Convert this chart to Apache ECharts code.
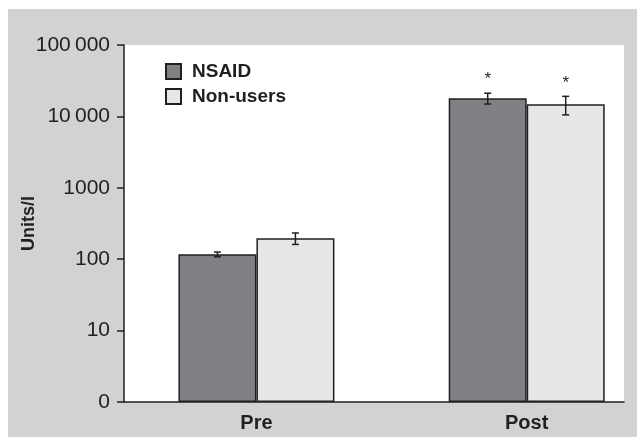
<!DOCTYPE html>
<html>
<head>
<meta charset="utf-8">
<script src="https://cdn.jsdelivr.net/npm/echarts@6/dist/echarts.min.js"></script>
<style>
  html, body { margin: 0; padding: 0; background: #fff; }
  #panel { position: absolute; left: 8px; top: 9px; width: 629px; height: 428px; background: #d1d2d4; }
  #chart { position: absolute; left: 0; top: 0; width: 644px; height: 442px; }
</style>
</head>
<body>
<div id="panel"></div>
<div id="chart"></div>
<script>
// values (Units/l), mean and error bar
const categories = ['Pre', 'Post']
const nsaid = [117, 18000]
const nsaidErr = [9, 3100]
const nonUsers = [197, 14800]
const nonUsersErr = [36, 4300]
const nsaidSig = [false, true]
const nonUsersSig = [false, true]
const yTickLabels = ['0', '10', '100', '1000', '10\u2009000', '100\u2009000']

const FONT = 'Liberation Sans'
const INK = '#231f20'
const BAR_W = 78

let myChart = echarts.init(document.getElementById('chart'))

// error bars (+ asterisk when significant), drawn on the same axes as the bars
function errorSeries(name, means, errs, sig, offset) {
  return {
    type: 'custom',
    name: name + '-err',
    z: 5,
    silent: true,
    data: means.map((m, i) => [i, m - errs[i], m + errs[i], sig[i] ? 1 : 0]),
    encode: { x: 0, y: [1, 2] },
    renderItem: function (params, api) {
      const lo = api.coord([api.value(0), api.value(1)])
      const hi = api.coord([api.value(0), api.value(2)])
      const x = lo[0] + offset
      const cap = 3.5
      const st = { stroke: INK, lineWidth: 1.5 }
      const children = [
        { type: 'line', shape: { x1: x, y1: lo[1], x2: x, y2: hi[1] }, style: st },
        { type: 'line', shape: { x1: x - cap, y1: lo[1], x2: x + cap, y2: lo[1] }, style: st },
        { type: 'line', shape: { x1: x - cap, y1: hi[1], x2: x + cap, y2: hi[1] }, style: st }
      ]
      if (api.value(3)) {
        children.push({
          type: 'text',
          style: {
            text: '*', x: x, y: hi[1] - 5, align: 'center', verticalAlign: 'bottom',
            font: '17px "' + FONT + '"', fill: INK
          }
        })
      }
      return { type: 'group', children: children }
    }
  }
}

let option = {
  animation: false,
  backgroundColor: 'transparent',
  textStyle: { fontFamily: FONT },
  grid: {
    left: 124, top: 45, right: 20, bottom: 40,
    show: true, backgroundColor: '#fff', borderWidth: 0
  },
  legend: {
    orient: 'vertical',
    left: 160, top: 57,
    icon: 'rect',
    itemWidth: 15, itemHeight: 15, itemGap: 6,
    data: ['NSAID', 'Non-users'],
    textStyle: { fontFamily: FONT, fontSize: 19, fontWeight: 'bold', color: INK, padding: [0, 0, 0, 6] }
  },
  xAxis: {
    type: 'value',
    min: -0.49, max: 1.36,
    axisLine: { onZero: false, lineStyle: { color: INK, width: 1.5 } },
    axisTick: { show: false },
    splitLine: { show: false },
    axisLabel: {
      customValues: [0, 1],
      formatter: v => categories[Math.round(v)],
      fontFamily: FONT, fontSize: 20, fontWeight: 'bold', color: INK, margin: 11
    }
  },
  yAxis: {
    type: 'log',
    logBase: 10,
    min: 1, max: 100000, interval: 1,
    name: 'Units/l',
    nameLocation: 'middle',
    nameGap: 86,
    nameMoveOverlap: false,
    nameTextStyle: { fontFamily: FONT, fontSize: 18, fontWeight: 'bold', color: INK },
    axisLine: { show: true, onZero: false, lineStyle: { color: INK, width: 1.5 } },
    axisTick: { show: true, length: 7, lineStyle: { color: INK, width: 1.5 } },
    splitLine: { show: false },
    axisLabel: {
      formatter: v => yTickLabels[Math.round(Math.log10(v))],
      fontFamily: FONT, fontSize: 21, color: INK, margin: 14
    }
  },
  series: [
    {
      name: 'NSAID',
      type: 'bar',
      barWidth: BAR_W,
      barGap: '0%',
      data: nsaid.map((v, i) => [i, v]),
      itemStyle: { color: '#808184', borderColor: INK, borderWidth: 1.5 }
    },
    {
      name: 'Non-users',
      type: 'bar',
      barWidth: BAR_W,
      barGap: '0%',
      data: nonUsers.map((v, i) => [i, v]),
      itemStyle: { color: '#e6e7e8', borderColor: INK, borderWidth: 1.5 }
    },
    errorSeries('NSAID', nsaid, nsaidErr, nsaidSig, -BAR_W / 2),
    errorSeries('Non-users', nonUsers, nonUsersErr, nonUsersSig, BAR_W / 2)
  ]
}

myChart.setOption(option)
</script>
</body>
</html>
